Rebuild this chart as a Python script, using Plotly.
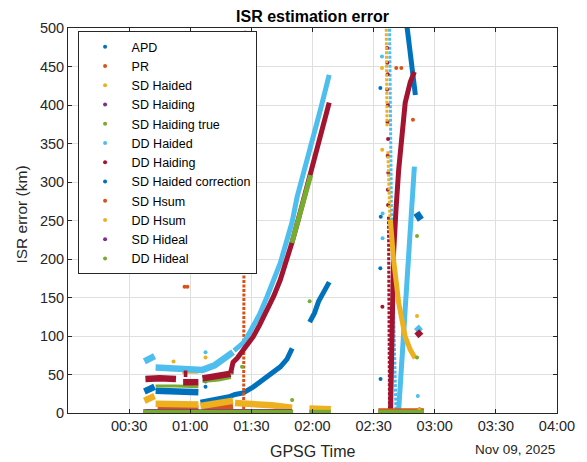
import pandas as pd
import plotly.graph_objects as go

DAY = "2025-11-09"

# ---------------- axis ticks ----------------
X_TICK_MIN = [30, 60, 90, 120, 150, 180, 210, 240]
X_TICK_TEXT = ["00:30", "01:00", "01:30", "02:00", "02:30", "03:00", "03:30", "04:00"]
Y_TICKS = [0, 50, 100, 150, 200, 250, 300, 350, 400, 450, 500]

SERIES = ["APD", "PR", "SD Haided", "SD Haiding", "SD Haiding true", "DD Haided",
          "DD Haiding", "SD Haided correction", "SD Hsum", "DD Hsum", "SD Hideal", "DD Hideal"]
COLORS = ["#0072BD", "#D95319", "#EDB120", "#7E2F8E", "#77AC30", "#4DBEEE",
          "#A2142F", "#0072BD", "#D95319", "#EDB120", "#7E2F8E", "#77AC30"]

# ---------------- data (time in minutes after 00:00, error in km) ----------------
# APD
APD_BAND_T = [37.5, 40, 42.5, None, 43, 50, 57, 64]
APD_BAND_V = [28, 31, 34, None, 29, 28, 28, 27]
APD_CURVE_T = [65, 72, 79, 82, 86, 91, 94, 97.7, 101, 104.2, 107.5, 110, None, 166, 168.5, 170.5]
APD_CURVE_V = [14, 17, 21, 24, 26, 34, 40, 47, 53, 60, 70, 84, None, 510, 455, 413]
APD_BLOB_T = [171, 173.2]
APD_BLOB_V = [260, 251]
APD_DOT_T = [67.5, 67.5, 153.3, 153.5, 153.3, 153.4]
APD_DOT_V = [34, 41, 422, 255, 188, 44]

# PR
PR_BAND_T = [44, 54, 64, None, 66, 81]
PR_BAND_V = [7, 7, 6, None, 5, 8]
PR_COL_T = [86.6, 86.2]
PR_COL_V = [494, 0]
PR_DOT_T = [87.0, 57.2, 58.6, 67.5, 161.1, 163.6, 169.3]
PR_DOT_V = [494, 164, 164, 45, 448, 448, 381]

# SD Haided
SDHA_BAND_T = [37.5, 40, 42.5, None, 43, 50, 57, 64, None, 65, 73, 81, None, 82, 90, 100, 110, None, 118.5, 123, 129]
SDHA_BAND_V = [16, 19, 22, None, 12, 12, 11, 11, None, 9, 12, 16, None, 13, 12, 10, 7, None, 6, 6, 5]
SDHA_CURVE_T = [56, 64]
SDHA_CURVE_V = [53, 53]
SDHA_DOT_T = [51.8, 67.5]
SDHA_DOT_V = [67, 72]

# SD Haiding
SDHG_BAND_T = [38, 64, None, 66, 110]
SDHG_BAND_V = [1, 1, None, 1, 1]

# SD Haiding true
SDHT_CURVE_T = [43, 53, 64, None, 66, 74, 80]
SDHT_CURVE_V = [35, 35, 34, None, 41, 43, 46]
SDHT_DOT_T = [80.5, 85.4]
SDHT_DOT_V = [52, 60]

# DD Haided
DDHA_BAND_T = [37.5, 40, 42.5, None, 43, 55, 64, 66, 72, 78, 81, None, 171, 173]
DDHA_BAND_V = [67, 70, 74, None, 59, 58, 57, 56, 62, 72, 79, None, 112, 106]
DDHA_CURVE_T = [81.5, 84, 86, 88, 91, 94, 97.7, 101, 104.2, 107.5, 110, 112.4, 116, 119.8, 124, 128.2,
                None, 162.3, 166.4, 170.0]
DDHA_CURVE_V = [81, 86, 91, 99, 112, 128, 151, 172, 195, 225, 248, 280, 315, 351, 395, 439,
                None, 4, 168, 320]
DDHA_COL_T = [157.8, 158.2, 158.8, 159.6, 160.6, 161]
DDHA_COL_V = [505, 350, 250, 150, 50, 0]
DDHA_DOT_T = [67.5, 154.1, 154.4, 154.4, 171.7]
DDHA_DOT_V = [79, 463, 259, 227, 22]

# DD Haiding
DDHG_BAND_T = [38, 45, 53, None, 56.5, 64, None, 66, 74, 79.8, None, 171.2, 173.2, None, 56.8, 58.6]
DDHG_BAND_V = [44, 45, 44, None, 40, 40, None, 45, 48, 51, None, 106, 100, None, 51, 51]
DDHG_CURVE_T = [79.8, 81, 83, 86, 90.9, 94, 97.7, 101, 104.2, 107, 109.9, 113, 116, 119.1, 123, 126, 128.2,
                None, 158.3, 158.7, 159, 159.8, 161, 162.3, 165.5, 168, 170]
DDHG_CURVE_V = [52, 66, 71, 82, 99, 114, 134, 152, 173, 195, 221, 251, 280, 309, 350, 380, 403,
                None, 0, 60, 121, 208, 265, 316, 403, 430, 443]
DDHG_COL_T = [157.3, 157.8]
DDHG_COL_V = [255, 0]
DDHG_DOT_T = [156.6, 156.7, 156.9, 156.6, 157.0, 156.8, 157.1, 156.9, 157.2, 157.0, 157.1, 154.3]
DDHG_DOT_V = [474, 455, 440, 420, 400, 378, 356, 334, 312, 290, 270, 138]

# SD Haided correction
SDHC_CURVE_T = [118.6, 121, 123, 126, 128.2]
SDHC_CURVE_V = [118, 130, 145, 158, 170]

# SD Hsum
SDHS_BAND_T = [152.3, 174.7]
SDHS_BAND_V = [2, 2]
SDHS_DOT_T = [172.5]
SDHS_DOT_V = [5]

# DD Hsum
DDHS_COL_T = [156.2, 156.6, None, 157.0, 158.0]
DDHS_COL_V = [505, 372, None, 340, 252]
DDHS_CURVE_T = [158.2, 159.8, 162.3, 165.5, 168, 170.4]
DDHS_CURVE_V = [251, 199, 143, 99, 82, 71]
DDHS_DOT_T = [154.1, 154.2, 171.3, 172.4]
DDHS_DOT_V = [448, 342, 126, 4]

# SD Hideal
SDHI_BAND_T = [37, 110]
SDHI_BAND_V = [0.5, 0.5]

# DD Hideal
DDHI_BASE_T = [37, 110.5, None, 118.4, 129, None, 152.3, 174.7]
DDHI_BASE_V = [1.2, 1.2, None, 1.2, 1.2, None, 1.2, 1.2]
DDHI_CURVE_T = [109.9, 113, 116, 119.1]
DDHI_CURVE_V = [221, 251, 280, 309]
DDHI_DOT_T = [110, 118.6, 171.3, 171.3]
DDHI_DOT_V = [17, 145, 230, 72]

DATA = {
    "APD": dict(band=(APD_BAND_T, APD_BAND_V), curve=(APD_CURVE_T, APD_CURVE_V),
                blob=(APD_BLOB_T, APD_BLOB_V), dot=(APD_DOT_T, APD_DOT_V)),
    "PR": dict(band=(PR_BAND_T, PR_BAND_V), col=(PR_COL_T, PR_COL_V), dot=(PR_DOT_T, PR_DOT_V)),
    "SD Haided": dict(band=(SDHA_BAND_T, SDHA_BAND_V), thin=(SDHA_CURVE_T, SDHA_CURVE_V),
                      dot=(SDHA_DOT_T, SDHA_DOT_V)),
    "SD Haiding": dict(band=(SDHG_BAND_T, SDHG_BAND_V)),
    "SD Haiding true": dict(thin=(SDHT_CURVE_T, SDHT_CURVE_V), dot=(SDHT_DOT_T, SDHT_DOT_V)),
    "DD Haided": dict(band=(DDHA_BAND_T, DDHA_BAND_V), curve=(DDHA_CURVE_T, DDHA_CURVE_V),
                      col=(DDHA_COL_T, DDHA_COL_V), dot=(DDHA_DOT_T, DDHA_DOT_V)),
    "DD Haiding": dict(band=(DDHG_BAND_T, DDHG_BAND_V), curve=(DDHG_CURVE_T, DDHG_CURVE_V),
                       col=(DDHG_COL_T, DDHG_COL_V), dot=(DDHG_DOT_T, DDHG_DOT_V)),
    "SD Haided correction": dict(curve=(SDHC_CURVE_T, SDHC_CURVE_V)),
    "SD Hsum": dict(band=(SDHS_BAND_T, SDHS_BAND_V), dot=(SDHS_DOT_T, SDHS_DOT_V)),
    "DD Hsum": dict(col=(DDHS_COL_T, DDHS_COL_V), curve=(DDHS_CURVE_T, DDHS_CURVE_V),
                    dot=(DDHS_DOT_T, DDHS_DOT_V)),
    "SD Hideal": dict(band=(SDHI_BAND_T, SDHI_BAND_V)),
    "DD Hideal": dict(base=(DDHI_BASE_T, DDHI_BASE_V), curve=(DDHI_CURVE_T, DDHI_CURVE_V),
                      dot=(DDHI_DOT_T, DDHI_DOT_V)),
}

# styles (kept apart from the data)
LINE_STYLE = {"band": dict(width=6.5), "base": dict(width=4.5), "curve": dict(width=5),
              "blob": dict(width=7), "thin": dict(width=3),
              "col": dict(width=3, dash="3px,1.5px")}
MARKER_SIZE = 4


def ts(mins):
    base = pd.Timestamp(DAY)
    return [None if m is None else base + pd.Timedelta(minutes=m) for m in mins]


fig = go.Figure()
for name, color in zip(SERIES, COLORS):
    parts = DATA[name]
    for kind in ["band", "base", "thin", "curve", "blob", "col"]:
        if kind in parts:
            t, v = parts[kind]
            fig.add_trace(go.Scatter(x=ts(t), y=v, mode="lines", showlegend=False,
                                     hoverinfo="skip", legendgroup=name,
                                     line=dict(color=color, **LINE_STYLE[kind])))
    if "dot" in parts:
        t, v = parts["dot"]
    else:
        t, v = [None], [None]
    fig.add_trace(go.Scatter(x=ts(t), y=v, mode="markers", name=name, legendgroup=name,
                             marker=dict(color=color, size=MARKER_SIZE, line=dict(width=0))))

FONT = "Liberation Sans, Arial, Helvetica, sans-serif"
AX = "#262626"
GRID = "#dfdfdf"

# the page body has an 8px margin, so the figure is sized/offset to compensate
fig.update_layout(
    width=579, height=454,
    margin=dict(l=60, r=30, t=20, b=49),
    plot_bgcolor="white", paper_bgcolor="white",
    font=dict(family=FONT, color=AX, size=14.5),
    title=dict(text="ISR estimation error", x=0.5, xref="paper", xanchor="center",
               y=1 - 8.5 / 454, yanchor="middle", yref="container",
               font=dict(family=FONT, size=16, color="#000000", weight="bold")),
    legend=dict(x=0.0196, y=0.992, xanchor="left", yanchor="top",
                bgcolor="white", bordercolor=AX, borderwidth=1,
                font=dict(family=FONT, size=12.5, color="#000000"),
                itemwidth=43, tracegroupgap=0),
    xaxis=dict(type="date",
               range=ts([0, 240]),
               tickmode="array", tickvals=ts(X_TICK_MIN), ticktext=X_TICK_TEXT,
               ticks="inside", ticklen=4, tickcolor=AX,
               showline=True, linecolor=AX, linewidth=1, mirror="ticks",
               showgrid=True, gridcolor=GRID, gridwidth=1, zeroline=False,
               tickfont=dict(size=14.5, color=AX)),
    yaxis=dict(range=[0, 500], tickmode="array", tickvals=Y_TICKS,
               ticks="inside", ticklen=4, tickcolor=AX,
               showline=True, linecolor=AX, linewidth=1, mirror="ticks",
               showgrid=True, gridcolor=GRID, gridwidth=1, zeroline=False,
               tickfont=dict(size=14.5, color=AX)),
    annotations=[
        dict(text="GPSG Time", x=0.5, y=(413 - 451) / 385, xref="paper", yref="paper",
             showarrow=False, xanchor="center", yanchor="middle",
             font=dict(family=FONT, size=16, color=AX)),
        dict(text="Nov 09, 2025", x=1.0, y=(413 - 449) / 385, xref="paper", yref="paper",
             showarrow=False, xanchor="right", yanchor="middle",
             font=dict(family=FONT, size=13.5, color=AX)),
        dict(text="ISR error (km)", x=(21.5 - 68) / 489, y=0.514, xref="paper", yref="paper",
             showarrow=False, xanchor="center", yanchor="middle", textangle=-90,
             font=dict(family=FONT, size=15.5, color=AX)),
    ],
)

fig.write_html("out.html")
